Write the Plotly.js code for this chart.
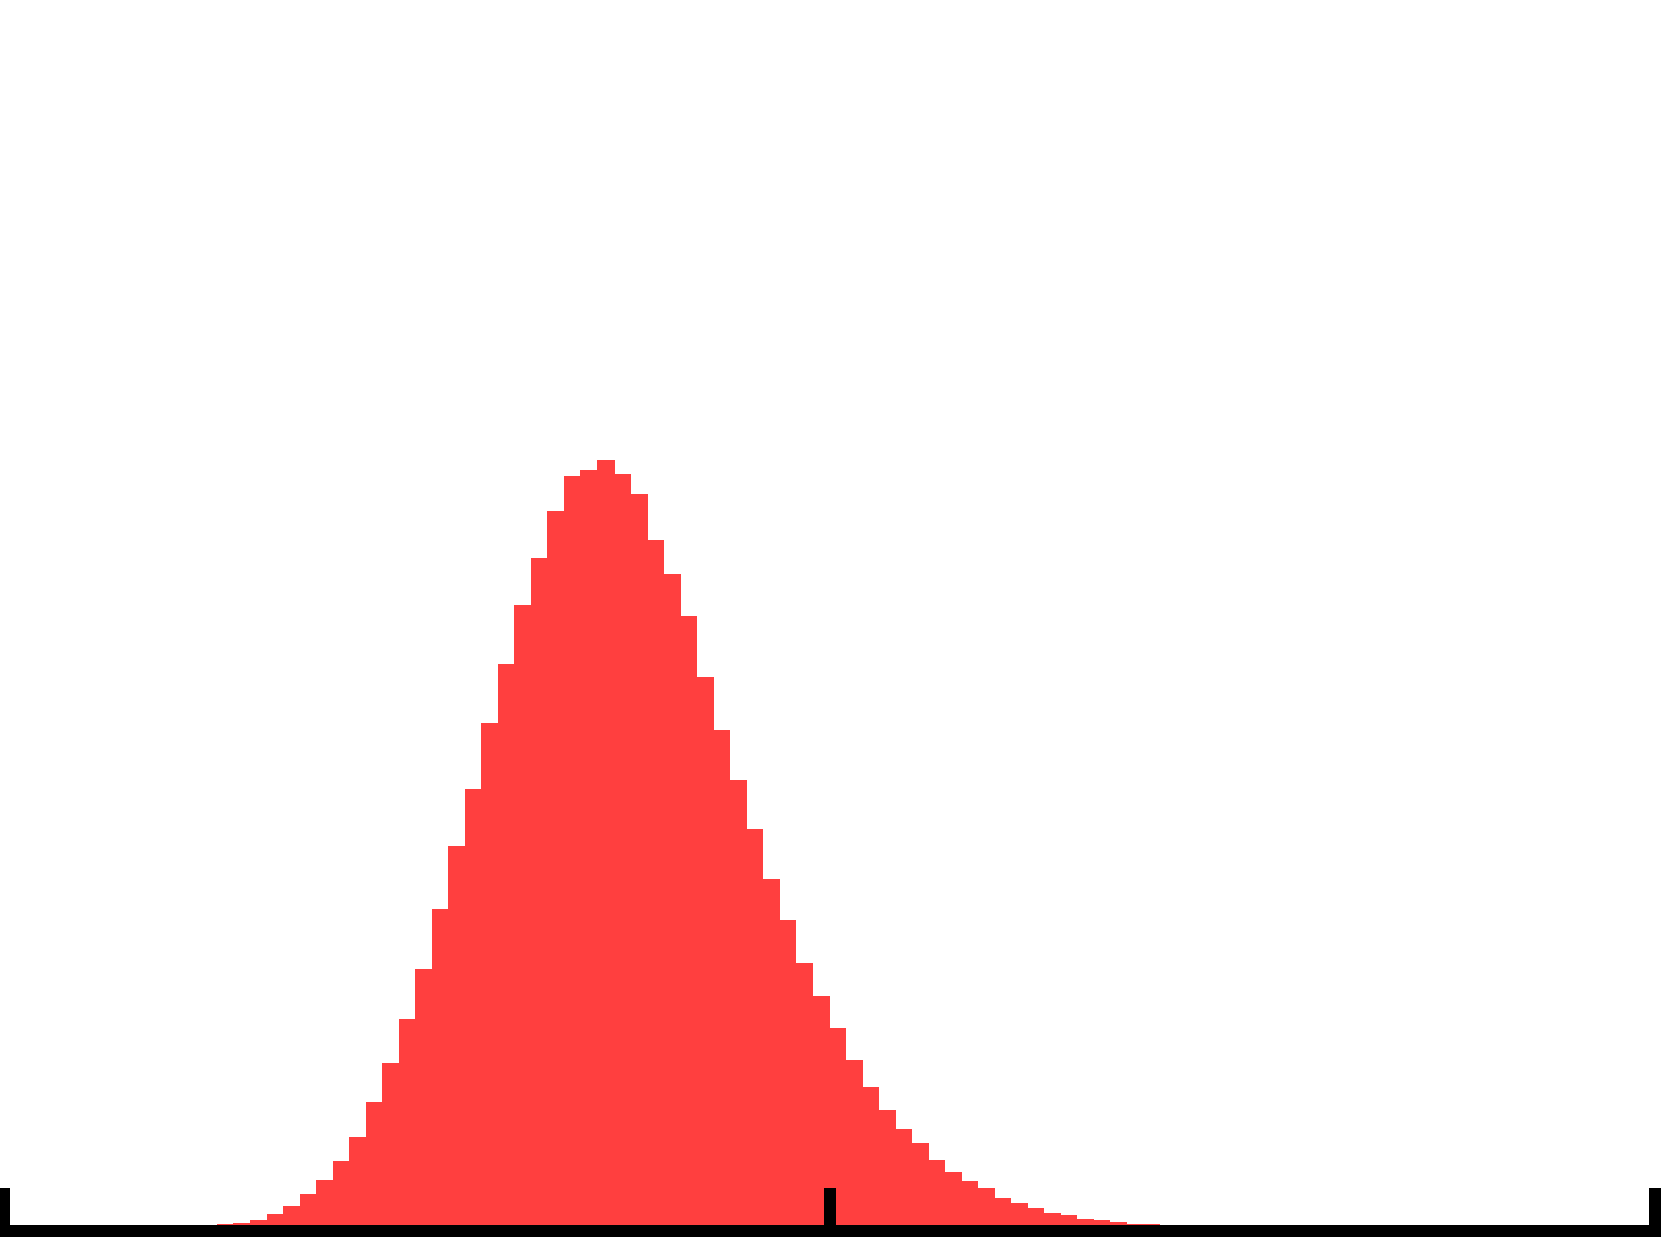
<!DOCTYPE html>
<html><head><meta charset="utf-8">
<script src="https://cdn.plot.ly/plotly-3.0.1.min.js"></script>
<style>html,body{margin:0;padding:0;background:#fff;overflow:hidden}#chart{width:1661px;height:1240px}</style>
</head><body><div id="chart"></div>
<script>
// Histogram bin edges (data units) and counts per bin
const binEdges = [-3.71,-3.61,-3.51,-3.41,-3.31,-3.21,-3.11,-3.01,-2.91,-2.81,-2.71,-2.61,-2.51,-2.41,-2.31,-2.21,-2.11,-2.01,-1.91,-1.81,-1.71,-1.61,-1.51,-1.41,
  -1.3,-1.2,-1.1,-1.0,-0.9,-0.8,-0.7,-0.6,-0.5,-0.4,-0.3,-0.2,-0.1,0,0.1,0.2,0.3,0.4,0.5,0.6,0.7,0.8,0.9,1.0,1.1,1.2,1.3,1.4,1.5,1.6,1.7,1.8,1.9,2.0];
const counts = [1,2,5,11,19,31,45,64,88,123,162,206,256,316,379,436,502,561,620,667,714,749,755,
  765,
  751,731,685,651,609,548,495,445,396,346,305,262,229,197,165,138,115,96,82,65,53,44,37,27,22,17,12,10,6,5,3,1,1];
const tickValues = [-5, 0, 5];
const xRange = [-5.0242, 5.0363];
const yRange = [0, 1225];

const centers = [], widths = [];
for (let i = 0; i < counts.length; i++) {
  centers.push((binEdges[i] + binEdges[i + 1]) / 2);
  widths.push(binEdges[i + 1] - binEdges[i]);
}

const trace = {
  type: 'bar',
  x: centers,
  y: counts,
  width: widths,
  marker: {color: 'red', line: {width: 0}},
  opacity: 0.75,
  hoverinfo: 'skip'
};

const layout = {
  width: 1661, height: 1240,
  margin: {l: 0, r: 0, t: 0, b: 15, pad: 0, autoexpand: false},
  paper_bgcolor: '#ffffff', plot_bgcolor: '#ffffff',
  showlegend: false,
  bargap: 0,
  xaxis: {
    range: xRange, showgrid: false, zeroline: false,
    showline: true, linecolor: '#000000', linewidth: 12,
    ticks: 'inside', ticklen: 37, tickwidth: 12, tickcolor: '#000000',
    tickmode: 'array', tickvals: tickValues, showticklabels: false,
    automargin: false, fixedrange: true
  },
  yaxis: {
    range: yRange, visible: false, showgrid: false, zeroline: false,
    automargin: false, fixedrange: true
  }
};

Plotly.newPlot('chart', [trace], layout, {displayModeBar: false, staticPlot: true});
</script>
</body></html>
